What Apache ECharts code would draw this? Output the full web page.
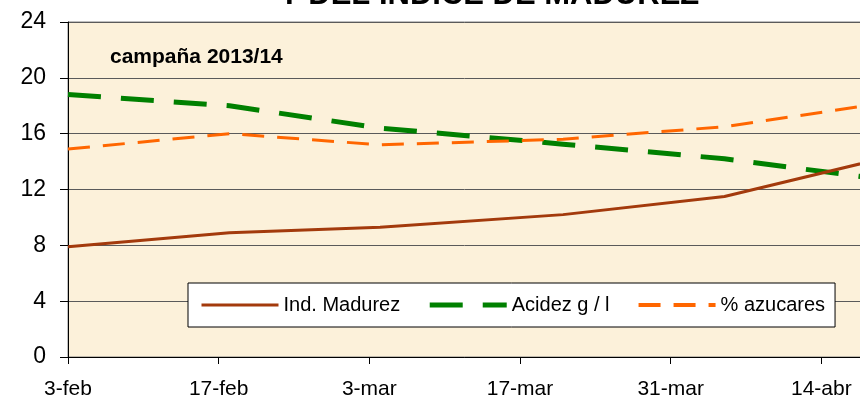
<!DOCTYPE html>
<html>
<head>
<meta charset="utf-8">
<script src="https://cdn.jsdelivr.net/npm/echarts@6/dist/echarts.min.js"></script>
<style>
  html, body { margin: 0; padding: 0; background: #fff; }
  #chart { width: 860px; height: 400px; }
</style>
</head>
<body>
<div id="chart"></div>
<script>
// fechas de muestreo (campaña 2013/14)
const sampleDates = ['2014-02-03', '2014-02-18', '2014-03-04', '2014-03-21', '2014-04-05', '2014-04-19']
const madurez = [7.9, 8.9, 9.3, 10.2, 11.5, 14.1]
const acidez = [18.8, 18.0, 16.4, 15.25, 14.2, 12.8]
const azucares = [14.9, 16.0, 15.2, 15.6, 16.5, 18.1]

const tickLabels = ['3-feb', '17-feb', '3-mar', '17-mar', '31-mar', '14-abr', '28-abr']
const yTicks = [0, 4, 8, 12, 16, 20, 24]

const FONT = 'Liberation Sans, Arial, sans-serif'
const DAY = 86400000
const start = Date.parse(sampleDates[0])
const days = sampleDates.map(d => Math.round((Date.parse(d) - start) / DAY))

function pairs(values) {
  return values.map((v, i) => [days[i], v])
}

const chart = echarts.init(document.getElementById('chart'))

chart.setOption({
  animation: false,
  textStyle: { fontFamily: FONT },
  graphic: [
    {
      type: 'text',
      left: 279,
      top: -20,
      style: {
        text: 'Y DEL ÍNDICE DE MADUREZ',
        font: 'bold 31px ' + FONT,
        fill: '#000'
      }
    },
    {
      type: 'text',
      left: 110,
      top: 47,
      z: 10,
      style: {
        text: 'campaña 2013/14',
        font: 'bold 21px ' + FONT,
        fill: '#000'
      }
    }
  ],
  grid: {
    left: 68,
    top: 22,
    bottom: 43,
    right: -112,
    outerBoundsMode: 'none',
    show: true,
    backgroundColor: '#fcf1da',
    borderColor: '#808080',
    borderWidth: 1
  },
  legend: {
    left: 188,
    top: 283,
    backgroundColor: '#fff',
    borderColor: '#000',
    borderWidth: 1,
    borderRadius: 0,
    padding: [10, 10, 10, 12],
    itemWidth: 77,
    itemHeight: 14,
    itemGap: 27,
    itemStyle: { opacity: 0 },
    textStyle: { fontSize: 20, color: '#000', fontFamily: FONT, lineHeight: 24 },
    data: [
      { name: 'Ind. Madurez', lineStyle: { width: 3 } },
      { name: 'Acidez g / l', lineStyle: { width: 5 } },
      { name: '% azucares', lineStyle: { width: 4 } }
    ]
  },
  xAxis: {
    type: 'value',
    min: 0,
    max: 84,
    interval: 14,
    axisLine: { show: true, lineStyle: { color: '#000', width: 1 } },
    axisTick: { show: true, length: 7, lineStyle: { color: '#000' } },
    splitLine: { show: false },
    axisLabel: {
      fontSize: 21,
      color: '#000',
      margin: 22,
      formatter: v => tickLabels[Math.round(v / 14)] || ''
    }
  },
  yAxis: {
    type: 'value',
    min: yTicks[0],
    max: yTicks[yTicks.length - 1],
    interval: 4,
    axisLine: { show: true, lineStyle: { color: '#000', width: 1 } },
    axisTick: { show: true, length: 8, lineStyle: { color: '#000' } },
    splitLine: { show: true, lineStyle: { color: '#5a5a5a', width: 1 } },
    axisLabel: { fontSize: 23, color: '#000', margin: 22 }
  },
  series: [
    {
      name: 'Ind. Madurez',
      type: 'line',
      data: pairs(madurez),
      symbol: 'none',
      color: '#a33a0c',
      lineStyle: { color: '#a33a0c', width: 3 },
      z: 3
    },
    {
      name: 'Acidez g / l',
      type: 'line',
      data: pairs(acidez),
      symbol: 'none',
      color: '#008000',
      lineStyle: { color: '#008000', width: 5, type: [33, 20] },
      z: 2
    },
    {
      name: '% azucares',
      type: 'line',
      data: pairs(azucares),
      symbol: 'none',
      color: '#ff6600',
      lineStyle: { color: '#ff6600', width: 3, type: [22, 13] },
      z: 2
    }
  ]
})
</script>
</body>
</html>
